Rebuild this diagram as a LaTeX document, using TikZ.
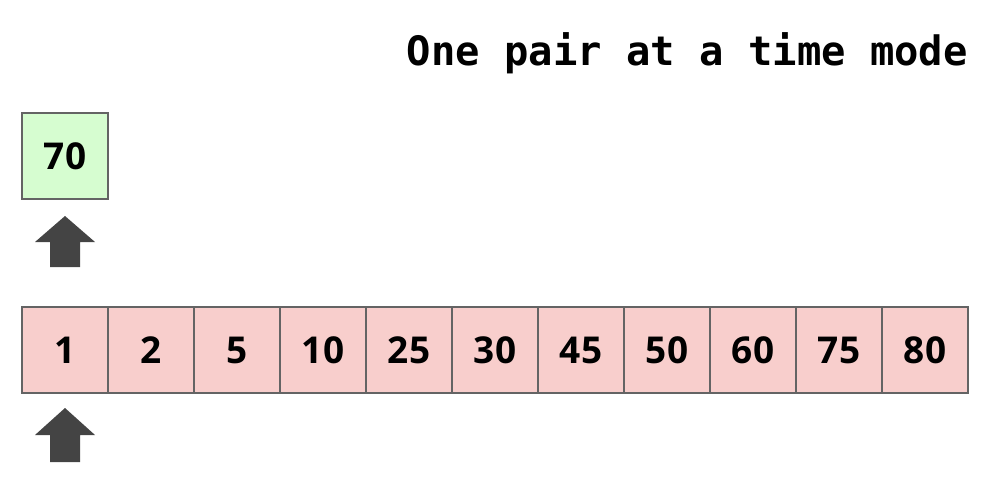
\documentclass[tikz,border=0pt]{standalone}
\usepackage{fontspec}
\setmainfont{Open Sans}
\newfontfamily\titlefont{DejaVu Sans Mono}
\begin{document}
\begin{tikzpicture}[x=1pt,y=-1pt,
  cellbox/.style={draw={rgb,255:red,100;green,100;blue,100}, line width=2.5pt, minimum width=86pt, minimum height=86pt, inner sep=0pt, font=\fontsize{37}{40}\selectfont\bfseries},
  pinkcell/.style={cellbox, fill={rgb,255:red,248;green,206;blue,204}},
  greencell/.style={cellbox, fill={rgb,255:red,214;green,253;blue,208}},
  uparrow/.style={fill={rgb,255:red,68;green,68;blue,68}, draw=none}]
\useasboundingbox (0,0) rectangle (992,484);
\node[anchor=base east, inner sep=0pt, font=\titlefont\bfseries\fontsize{40.5}{44}\selectfont] (title) at (968,66) {One pair at a time mode};
\node[greencell] (g) at (65,156) {70};
\foreach \v [count=\i from 0] in {1,2,5,10,25,30,45,50,60,75,80} {
  \node[pinkcell] (c\i) at (65+86*\i,350) {\v};
}
\fill[uparrow] (50,267) -- (50,242) -- (35,242) -- (65,216) -- (95,242) -- (80,242) -- (80,267) -- cycle;
\fill[uparrow] (50,462) -- (50,435) -- (35,435) -- (65,408) -- (95,435) -- (80,435) -- (80,462) -- cycle;
\end{tikzpicture}
\end{document}
